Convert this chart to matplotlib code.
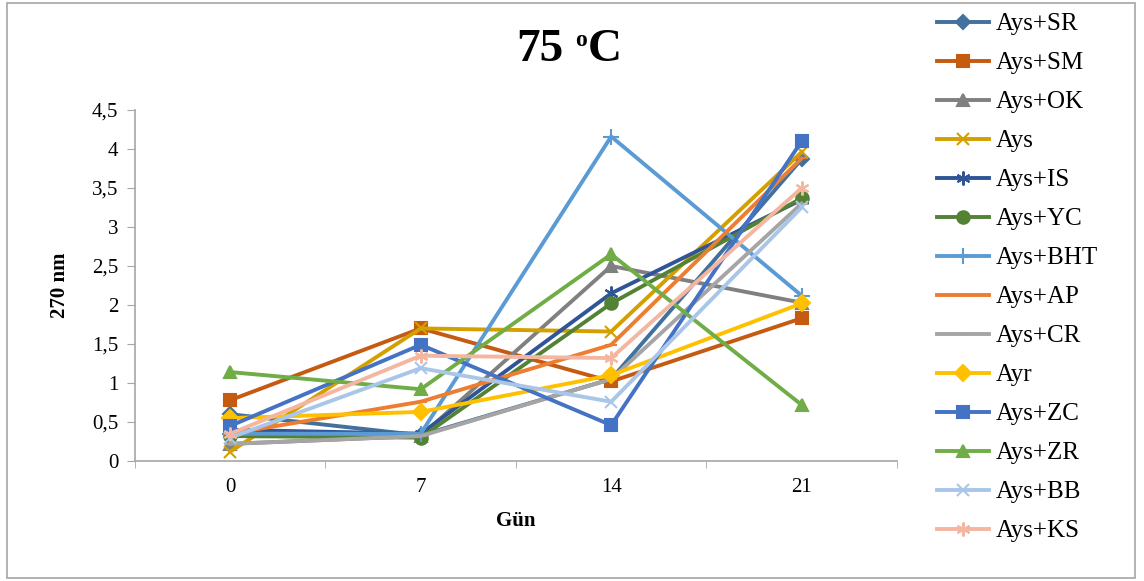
import matplotlib
matplotlib.use("Agg")
import matplotlib.pyplot as plt
from matplotlib.patches import Rectangle

plt.rcParams["font.family"] = ["Liberation Serif", "DejaVu Serif"]

days = ["0", "7", "14", "21"]

labels = ["Ays+SR", "Ays+SM", "Ays+OK", "Ays", "Ays+IS", "Ays+YC", "Ays+BHT",
          "Ays+AP", "Ays+CR", "Ayr", "Ays+ZC", "Ays+ZR", "Ays+BB", "Ays+KS"]

ays_sr = [0.60, 0.33, 1.05, 3.87]
ays_sm = [0.78, 1.70, 1.02, 1.83]
ays_ok = [0.22, 0.32, 2.50, 2.03]
ays = [0.12, 1.70, 1.66, 3.96]
ays_is = [0.40, 0.35, 2.15, 3.35]
ays_yc = [0.32, 0.30, 2.02, 3.37]
ays_bht = [0.35, 0.35, 4.16, 2.12]
ays_ap = [0.35, 0.76, 1.49, 3.88]
ays_cr = [0.22, 0.32, 1.05, 3.30]
ayr = [0.55, 0.63, 1.10, 2.02]
ays_zc = [0.45, 1.49, 0.46, 4.10]
ays_zr = [1.14, 0.92, 2.65, 0.72]
ays_bb = [0.30, 1.19, 0.76, 3.25]
ays_ks = [0.35, 1.35, 1.32, 3.50]

series = [ays_sr, ays_sm, ays_ok, ays, ays_is, ays_yc, ays_bht,
          ays_ap, ays_cr, ayr, ays_zc, ays_zr, ays_bb, ays_ks]

colors = ["#41719C", "#C55A11", "#808080", "#D4A000", "#2F5597", "#548235", "#5B9BD5",
          "#ED7D31", "#A5A5A5", "#FFC000", "#4472C4", "#70AD47", "#A9C6E8", "#F4B6A0"]
star = (6, 2, 0)
markers = ["D", "s", "^", "x", star, "o", "+", "_", "_", "D", "s", "^", "x", star]
msizes = [7, 9, 9, 9, 10, 9, 11, 9, 9, 8, 9, 9, 9, 10]

W, H = 1144, 581
fig = plt.figure(figsize=(W / 100, H / 100), dpi=100)
ax = fig.add_axes([0.118, 0.2065, 0.666, 0.6042])

x = list(range(len(days)))
for vals, lab, c, m, ms in zip(series, labels, colors, markers, msizes):
    ax.plot(x, vals, color=c, lw=2.8, marker=m, markersize=ms,
            markeredgewidth=1.5, label=lab)

ax.set_xlim(-0.5, 3.5)
ax.set_ylim(0, 4.5)
ax.set_xticks(x)
ax.set_xticklabels(days)
ax.set_yticks([0, 0.5, 1, 1.5, 2, 2.5, 3, 3.5, 4, 4.5])
ax.set_yticklabels(["0", "0,5", "1", "1,5", "2", "2,5", "3", "3,5", "4", "4,5"])
ax.set_xticks([-0.5, 0.5, 1.5, 2.5, 3.5], minor=True)
ax.tick_params(axis="x", which="major", length=0, labelsize=15, pad=12)
ax.tick_params(axis="x", which="minor", length=5, color="#A6A6A6")
ax.tick_params(axis="y", length=6, color="#A6A6A6", labelsize=15, pad=6)

for s in ["top", "right"]:
    ax.spines[s].set_visible(False)
for s in ["left", "bottom"]:
    ax.spines[s].set_color("#A6A6A6")
    ax.spines[s].set_linewidth(1.2)

ax.set_xlabel("Gün", fontsize=15, fontweight="bold", labelpad=10)
ax.set_ylabel("270 nm", fontsize=15, fontweight="bold", labelpad=16)

# title "75 ºC" with small raised o
fig.text(516 / W, 1 - 50 / H, "75", fontsize=34, fontweight="bold", ha="left", va="center")
fig.text(575 / W, 1 - 41 / H, "o", fontsize=17, fontweight="bold", ha="left", va="center")
fig.text(588 / W, 1 - 50 / H, "C", fontsize=34, fontweight="bold", ha="left", va="center")

ax.legend(loc="upper left", bbox_to_anchor=(0.810, 0.995), bbox_transform=fig.transFigure,
          frameon=False, fontsize=18, handlelength=2.1, handletextpad=0.25,
          labelspacing=0.66, borderaxespad=0)

fig.patches.append(Rectangle((0.006, 0.005), 0.986, 0.99, transform=fig.transFigure,
                             fill=False, edgecolor="#A6A6A6", lw=1.2))

fig.savefig("out.png", dpi=100)
